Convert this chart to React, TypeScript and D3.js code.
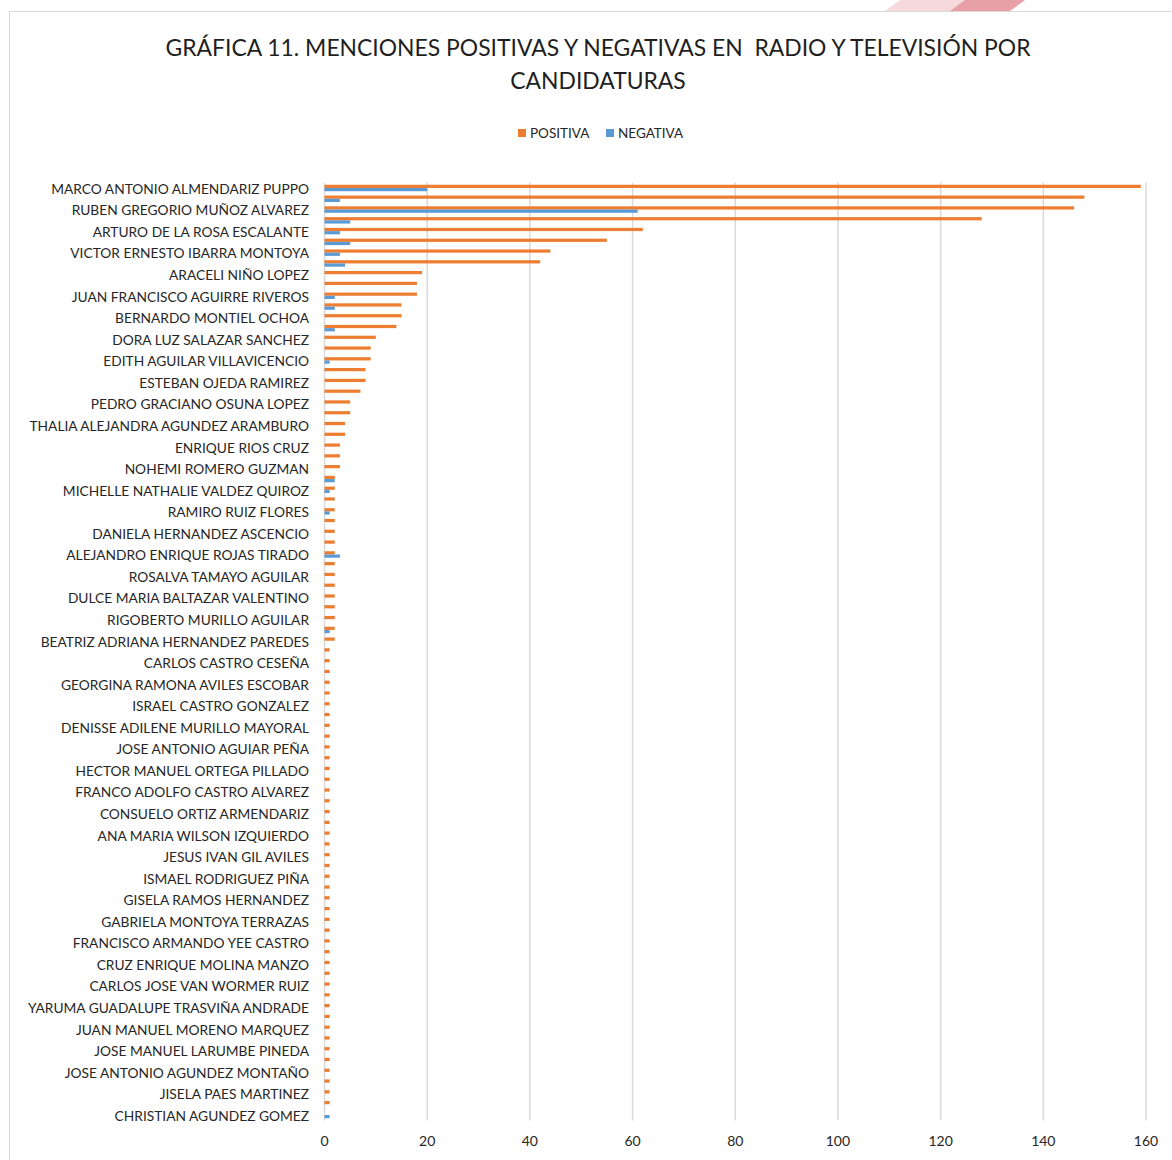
import React from "react";
import * as d3 from "d3";

const TITLE_LINES = [
  "GRÁFICA 11. MENCIONES POSITIVAS Y NEGATIVAS EN  RADIO Y TELEVISIÓN POR",
  "CANDIDATURAS",
];

const SERIES_NAMES = ["POSITIVA", "NEGATIVA"];
const SERIES_COLORS = ["#ED7D31", "#5B9BD5"];

// Labels shown on the axis (every second candidate, as in the source chart)
const SHOWN_LABELS = [
  "MARCO ANTONIO ALMENDARIZ PUPPO",
  "RUBEN GREGORIO MUÑOZ ALVAREZ",
  "ARTURO DE LA ROSA ESCALANTE",
  "VICTOR ERNESTO IBARRA MONTOYA",
  "ARACELI NIÑO LOPEZ",
  "JUAN FRANCISCO AGUIRRE RIVEROS",
  "BERNARDO MONTIEL OCHOA",
  "DORA LUZ SALAZAR SANCHEZ",
  "EDITH AGUILAR VILLAVICENCIO",
  "ESTEBAN OJEDA RAMIREZ",
  "PEDRO GRACIANO OSUNA LOPEZ",
  "THALIA ALEJANDRA AGUNDEZ ARAMBURO",
  "ENRIQUE RIOS CRUZ",
  "NOHEMI ROMERO GUZMAN",
  "MICHELLE NATHALIE VALDEZ QUIROZ",
  "RAMIRO RUIZ FLORES",
  "DANIELA HERNANDEZ ASCENCIO",
  "ALEJANDRO ENRIQUE ROJAS TIRADO",
  "ROSALVA TAMAYO AGUILAR",
  "DULCE MARIA BALTAZAR VALENTINO",
  "RIGOBERTO MURILLO AGUILAR",
  "BEATRIZ ADRIANA HERNANDEZ PAREDES",
  "CARLOS CASTRO CESEÑA",
  "GEORGINA RAMONA AVILES ESCOBAR",
  "ISRAEL CASTRO GONZALEZ",
  "DENISSE ADILENE MURILLO MAYORAL",
  "JOSE ANTONIO AGUIAR PEÑA",
  "HECTOR MANUEL ORTEGA PILLADO",
  "FRANCO ADOLFO CASTRO ALVAREZ",
  "CONSUELO ORTIZ ARMENDARIZ",
  "ANA MARIA WILSON IZQUIERDO",
  "JESUS IVAN GIL AVILES",
  "ISMAEL RODRIGUEZ PIÑA",
  "GISELA RAMOS HERNANDEZ",
  "GABRIELA MONTOYA TERRAZAS",
  "FRANCISCO ARMANDO YEE CASTRO",
  "CRUZ ENRIQUE MOLINA MANZO",
  "CARLOS JOSE VAN WORMER RUIZ",
  "YARUMA GUADALUPE TRASVIÑA ANDRADE",
  "JUAN MANUEL MORENO MARQUEZ",
  "JOSE MANUEL LARUMBE PINEDA",
  "JOSE ANTONIO AGUNDEZ MONTAÑO",
  "JISELA PAES MARTINEZ",
  "CHRISTIAN AGUNDEZ GOMEZ",
];

// 87 candidates, top to bottom
const POSITIVA = [
  159, 148, 146, 128, 62, 55, 44, 42,
  19, 18, 18, 15, 15, 14,
  10, 9, 9, 8, 8, 7,
  5, 5, 4, 4, 3, 3, 3,
  2, 2, 2, 2, 2, 2, 2, 2, 2, 2, 2, 2, 2, 2, 2, 2,
  1, 1, 1, 1, 1, 1, 1, 1, 1, 1,
  1, 1, 1, 1, 1, 1, 1, 1, 1, 1,
  1, 1, 1, 1, 1, 1, 1, 1, 1, 1,
  1, 1, 1, 1, 1, 1, 1, 1, 1, 1,
  1, 1, 1,
  0,
];

const NEGATIVA = [
  20, 3, 61, 5, 3, 5, 3, 4,
  0, 0, 2, 2, 0, 2,
  0, 0, 1, 0, 0, 0,
  0, 0, 0, 0, 0, 0, 0,
  2, 1, 0, 1, 0, 0, 0, 3, 0, 0, 0, 0, 0, 0, 1, 0,
  0, 0, 0, 0, 0, 0, 0, 0, 0, 0,
  0, 0, 0, 0, 0, 0, 0, 0, 0, 0,
  0, 0, 0, 0, 0, 0, 0, 0, 0, 0,
  0, 0, 0, 0, 0, 0, 0, 0, 0, 0,
  0, 0, 0,
  1,
];

const X_TICKS = [0, 20, 40, 60, 80, 100, 120, 140, 160];

const FONT = "Lato, 'Noto Sans', sans-serif";

export default function App() {
  const W = 1172;
  const H = 1160;
  const plot = { left: 324.5, right: 1146, top: 182.6, bottom: 1120.4 };
  const n = POSITIVA.length;

  const x = d3.scaleLinear().domain([0, 160]).range([plot.left, plot.right]);
  const y = d3
    .scaleBand<number>()
    .domain(d3.range(n))
    .range([plot.top, plot.bottom])
    .paddingInner(0.4)
    .paddingOuter(0.2);
  const inner = d3
    .scaleBand<number>()
    .domain([0, 1])
    .range([0, y.bandwidth()])
    .paddingInner(0);

  const series = [POSITIVA, NEGATIVA];

  return (
    <svg
      width={W}
      height={H}
      style={{ position: "absolute", left: 0, top: 0, background: "#fff" }}
      fontFamily={FONT}
    >
      <rect x={0} y={0} width={W} height={H} fill="#fff" />
      <polygon points="900,0 965,0 950,11 885,11" fill="#f6d9dc" />
      <polygon points="965,0 1025,0 1010,11 950,11" fill="#e8a0a8" />
      <rect x={9.5} y={11.5} width={1200} height={1200} fill="#fff" stroke="#d9d9d9" strokeWidth={1} />

      {TITLE_LINES.map((t, i) => (
        <text
          key={i}
          x={598}
          y={56 + i * 33}
          textAnchor="middle"
          fontSize={22.9}
          fill="#1f1f1f"
          style={{ whiteSpace: "pre" }}
        >
          {t}
        </text>
      ))}

      {/* legend */}
      {SERIES_NAMES.map((s, i) => {
        const lx = [518, 606][i];
        return (
          <g key={s}>
            <rect x={lx} y={129} width={8} height={8} fill={SERIES_COLORS[i]} />
            <text x={lx + 12} y={138} fontSize={13.5} fill="#262626">
              {s}
            </text>
          </g>
        );
      })}

      {/* gridlines */}
      {X_TICKS.map((t) => (
        <line
          key={t}
          x1={x(t)}
          x2={x(t)}
          y1={plot.top}
          y2={plot.bottom}
          stroke="#d9d9d9"
          strokeWidth={1.5}
        />
      ))}

      {/* bars */}
      {series.map((vals, si) =>
        vals.map((v, i) =>
          v > 0 ? (
            <rect
              key={`${si}-${i}`}
              x={x(0)}
              y={(y(i) as number) + (inner(si) as number)}
              width={x(v) - x(0)}
              height={inner.bandwidth()}
              fill={SERIES_COLORS[si]}
            />
          ) : null
        )
      )}

      {/* category labels */}
      {SHOWN_LABELS.map((lab, k) => {
        const idx = k * 2;
        return (
          <text
            key={lab}
            x={309}
            y={(y(idx) as number) + y.bandwidth() / 2 + 1}
            dy="0.35em"
            textAnchor="end"
            fontSize={13.75}
            fill="#262626"
          >
            {lab}
          </text>
        );
      })}

      {/* x tick labels */}
      {X_TICKS.map((t) => (
        <text
          key={t}
          x={x(t)}
          y={1146}
          textAnchor="middle"
          fontSize={14}
          fill="#262626"
        >
          {t}
        </text>
      ))}
    </svg>
  );
}
